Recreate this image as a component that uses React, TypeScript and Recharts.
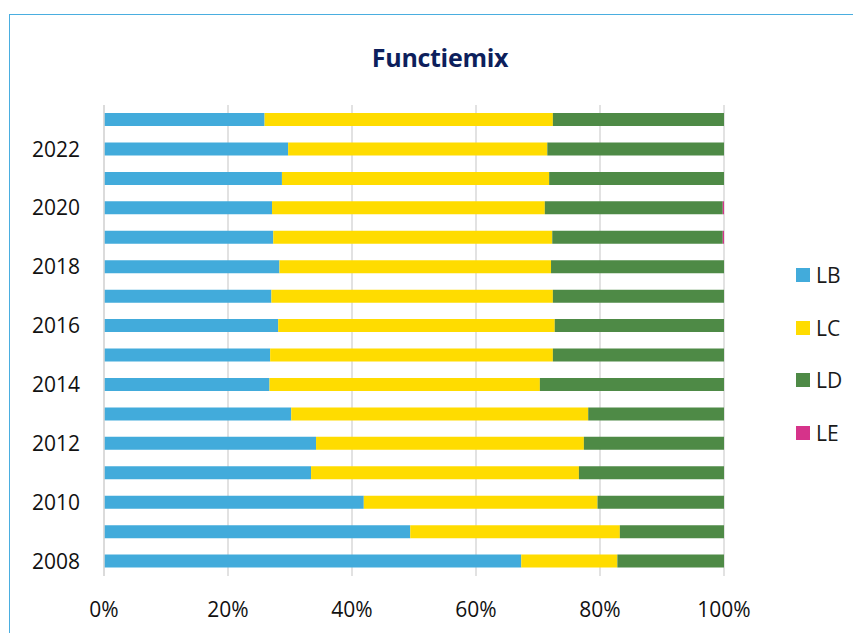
import { BarChart, Bar, XAxis, YAxis, CartesianGrid, Legend } from 'recharts'

const years = ['2008', '2009', '2010', '2011', '2012', '2013', '2014', '2015', '2016', '2017', '2018', '2019', '2020', '2021', '2022', '2023']
const lb = [67.3, 49.4, 41.9, 33.4, 34.2, 30.2, 26.7, 26.8, 28.1, 27.0, 28.3, 27.3, 27.1, 28.7, 29.7, 25.9]
const lc = [15.5, 33.8, 37.7, 43.2, 43.2, 47.9, 43.6, 45.6, 44.6, 45.4, 43.8, 45.0, 44.0, 43.1, 41.8, 46.5]
const ld = [17.2, 16.8, 20.4, 23.4, 22.6, 21.9, 29.7, 27.6, 27.3, 27.6, 27.9, 27.5, 28.7, 28.2, 28.5, 27.6]
const le = [0, 0, 0, 0, 0, 0, 0, 0, 0, 0, 0, 0.2, 0.2, 0, 0, 0]
const xTicks = [0, 20, 40, 60, 80, 100]

const SERIES = [
  { key: 'LB', color: '#42ABDB' },
  { key: 'LC', color: '#FFDC00' },
  { key: 'LD', color: '#4E8A46' },
  { key: 'LE', color: '#D6338A' }
]

const FONT = '"Open Sans", "Noto Sans", sans-serif'

const data = years.map((year, i) => ({ year, LB: lb[i], LC: lc[i], LD: ld[i], LE: le[i] }))

// Vertical legend, one entry per series, on the right side of the plot
function SideLegend({ payload }: { payload?: { value: string; color: string }[] }) {
  return (
    <div style={{ fontFamily: FONT }}>
      {(payload || []).map(entry => (
        <div key={entry.value} style={{ display: 'flex', alignItems: 'center', height: 52.5 }}>
          <span style={{ width: 14, height: 14, background: entry.color, marginRight: 6 }} />
          <span style={{ fontSize: 21, color: '#1a1a1a' }}>{entry.value}</span>
        </div>
      ))}
    </div>
  )
}

export default function App() {
  return (
    <div style={{ position: 'relative', width: 853, height: 625, overflow: 'hidden', background: '#fff' }}>
      <div
        style={{
          position: 'absolute',
          left: 1,
          top: 6,
          width: 852,
          height: 619,
          borderTop: '1.5px solid #4aaee0',
          borderLeft: '1.5px solid #4aaee0',
          boxSizing: 'border-box'
        }}
      />
      <div
        style={{
          position: 'absolute',
          left: 0,
          top: 32,
          width: 864,
          textAlign: 'center',
          fontFamily: FONT,
          fontWeight: 700,
          fontSize: 25,
          letterSpacing: -0.3,
          color: '#0D1F5C'
        }}
      >
        Functiemix
      </div>
      <div style={{ position: 'absolute', left: 0, top: 0 }}>
        <BarChart
          width={853}
          height={625}
          data={data}
          layout="vertical"
          margin={{ top: 97, right: 67, bottom: 0, left: 0 }}
        >
          <CartesianGrid horizontal={false} stroke="#d9d9d9" strokeWidth={1.5} />
          <XAxis
            type="number"
            domain={[0, 100]}
            ticks={xTicks}
            tickFormatter={v => `${v}%`}
            axisLine={false}
            tickLine={false}
            tickSize={0}
            tickMargin={26}
            height={57}
            tick={{ fontSize: 21, fill: '#111', fontFamily: FONT }}
          />
          <YAxis
            type="category"
            dataKey="year"
            reversed
            interval={1}
            width={96}
            axisLine={{ stroke: '#d9d9d9', strokeWidth: 1.5 }}
            tickLine={false}
            tickSize={0}
            tickMargin={24}
            tick={{ fontSize: 21, fill: '#111', fontFamily: FONT }}
          />
          <Legend
            layout="vertical"
            verticalAlign="top"
            align="right"
            content={SideLegend as any}
            wrapperStyle={{ left: 788, top: 241, width: 70 }}
          />
          {SERIES.map(s => (
            <Bar key={s.key} dataKey={s.key} stackId="mix" fill={s.color} barSize={13} isAnimationActive={false} />
          ))}
        </BarChart>
      </div>
    </div>
  )
}
